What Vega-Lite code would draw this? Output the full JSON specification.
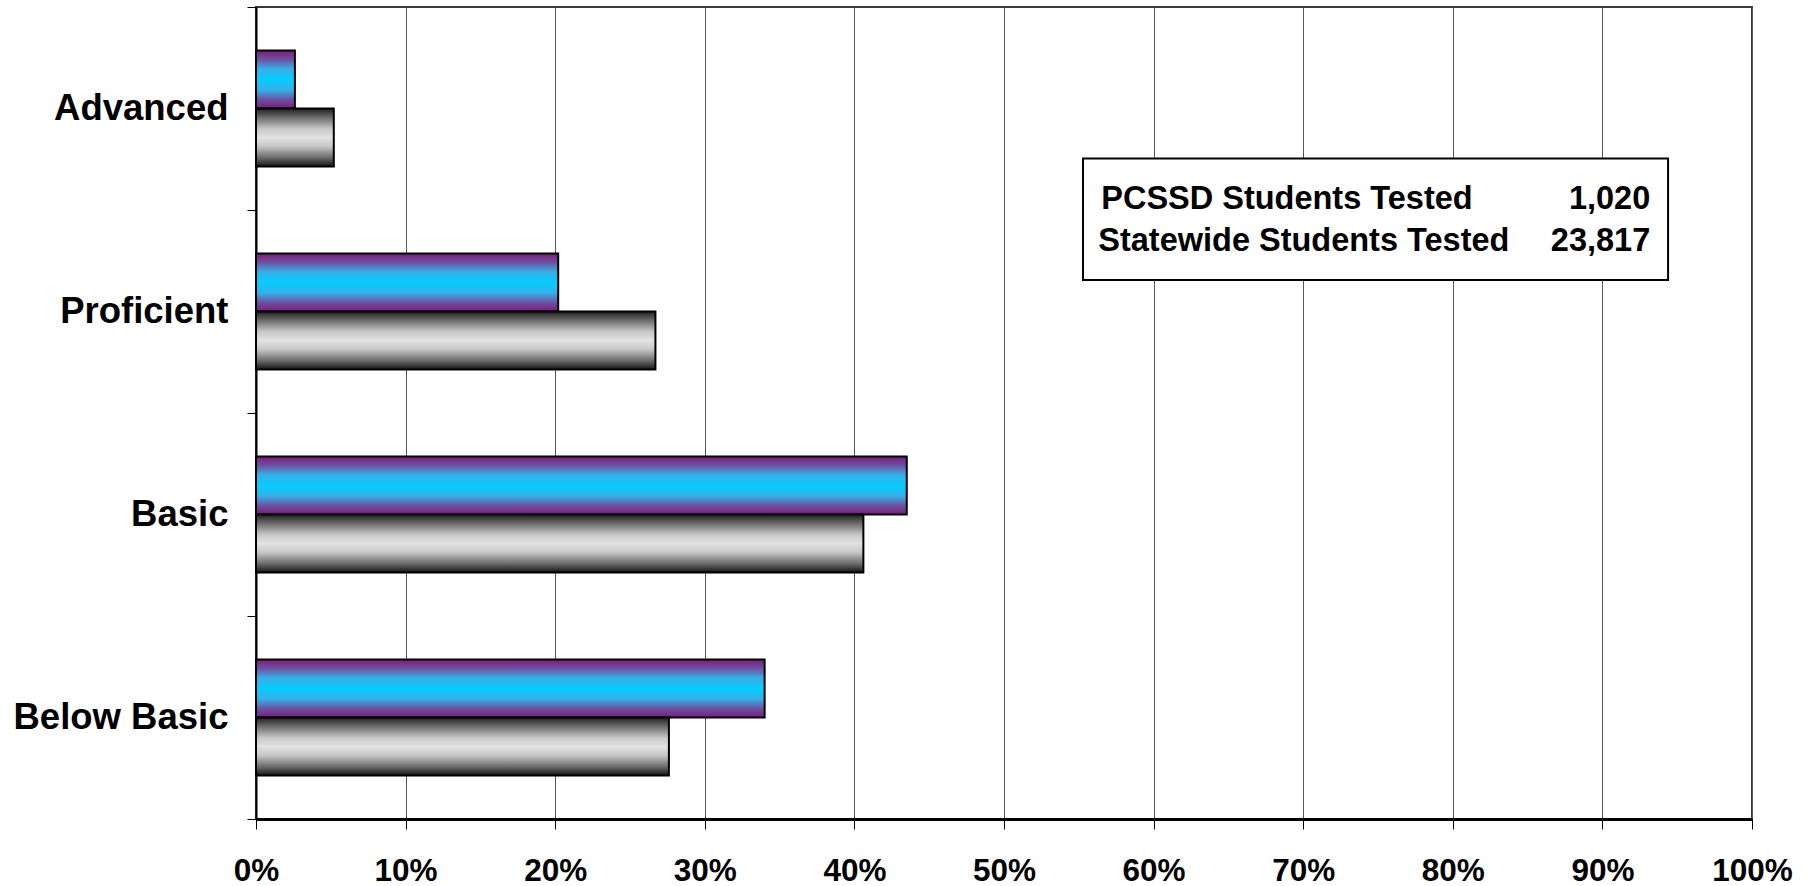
{
  "$schema": "https://vega.github.io/schema/vega-lite/v6.json",
  "width": 1496,
  "height": 812,
  "autosize": {"type": "none"},
  "padding": {"left": 256, "top": 7, "right": 62, "bottom": 67},
  "background": "white",
  "config": {
    "view": {"stroke": "#3a3a3a", "strokeWidth": 2},
    "font": "Liberation Sans"
  },
  "datasets": {
    "bars": [
      {"level": "Advanced", "group": "PCSSD", "pct": 2.6},
      {"level": "Advanced", "group": "Statewide", "pct": 5.2},
      {"level": "Proficient", "group": "PCSSD", "pct": 20.2},
      {"level": "Proficient", "group": "Statewide", "pct": 26.7},
      {"level": "Basic", "group": "PCSSD", "pct": 43.5},
      {"level": "Basic", "group": "Statewide", "pct": 40.6},
      {"level": "Below Basic", "group": "PCSSD", "pct": 34.0},
      {"level": "Below Basic", "group": "Statewide", "pct": 27.6}
    ],
    "box": [
      {"label": "PCSSD Students Tested", "count": "1,020"},
      {"label": "Statewide Students Tested", "count": "23,817"}
    ]
  },
  "layer": [
    {
      "data": {"name": "bars"},
      "encoding": {
        "y": {
          "field": "level",
          "type": "nominal",
          "scale": {"domain": ["Advanced", "Proficient", "Basic", "Below Basic"], "paddingInner": 0, "paddingOuter": 0},
          "axis": {
            "title": null,
            "tickBand": "extent",
            "labelFontSize": 36.5,
            "labelFontWeight": "bold",
            "labelColor": "black",
            "labelLimit": 500,
            "labelPadding": 19,
            "tickSize": 9,
            "tickColor": "black",
            "tickWidth": 1,
            "domainColor": "black",
            "domainWidth": 2,
            "grid": false
          }
        },
        "yOffset": {
          "field": "group",
          "type": "nominal",
          "scale": {"domain": ["PCSSD", "Statewide"], "paddingInner": 0, "paddingOuter": 0.75}
        },
        "x": {
          "field": "pct",
          "type": "quantitative",
          "scale": {"domain": [0, 100], "nice": false},
          "axis": {
            "title": null,
            "values": [0, 10, 20, 30, 40, 50, 60, 70, 80, 90, 100],
            "labelExpr": "datum.value + '%'",
            "labelFontSize": 31.5,
            "labelFontWeight": "bold",
            "labelColor": "black",
            "labelFlush": false,
            "labelOverlap": false,
            "labelPadding": 26,
            "tickSize": 10,
            "tickColor": "black",
            "domainColor": "black",
            "domainWidth": 3,
            "grid": true,
            "gridColor": "#555555",
            "gridWidth": 1
          }
        }
      },
      "layer": [
        {
          "transform": [{"filter": "datum.group === 'PCSSD'"}],
          "mark": {
            "type": "bar",
            "stroke": "black",
            "strokeWidth": 2,
            "color": {
              "gradient": "linear",
              "x1": 0, "y1": 0, "x2": 0, "y2": 1,
              "stops": [
                {"offset": 0, "color": "#7a1c7c"},
                {"offset": 0.15, "color": "#6d4f9e"},
                {"offset": 0.32, "color": "#36b0e8"},
                {"offset": 0.5, "color": "#05ccff"},
                {"offset": 0.68, "color": "#36b0e8"},
                {"offset": 0.85, "color": "#6d4f9e"},
                {"offset": 1, "color": "#7a1c7c"}
              ]
            }
          }
        },
        {
          "transform": [{"filter": "datum.group === 'Statewide'"}],
          "mark": {
            "type": "bar",
            "stroke": "black",
            "strokeWidth": 2,
            "color": {
              "gradient": "linear",
              "x1": 0, "y1": 0, "x2": 0, "y2": 1,
              "stops": [
                {"offset": 0, "color": "#1e1e1e"},
                {"offset": 0.15, "color": "#6a6a6a"},
                {"offset": 0.35, "color": "#c8c8c8"},
                {"offset": 0.5, "color": "#e2e2e2"},
                {"offset": 0.65, "color": "#c8c8c8"},
                {"offset": 0.85, "color": "#6a6a6a"},
                {"offset": 1, "color": "#141414"}
              ]
            }
          }
        }
      ]
    },
    {
      "data": {"name": "box"},
      "layer": [
        {
          "transform": [{"filter": "datum.label === 'PCSSD Students Tested'"}],
          "mark": {"type": "rect", "fill": "white", "stroke": "black", "strokeWidth": 2},
          "encoding": {
            "x": {"datum": 55.28, "type": "quantitative"},
            "x2": {"datum": 94.39},
            "y": {"datum": 0.8134, "type": "quantitative", "scale": {"domain": [0, 1], "nice": false, "zero": true}, "axis": null},
            "y2": {"datum": 0.6638}
          }
        },
        {
          "transform": [{"filter": "datum.label === 'PCSSD Students Tested'"}],
          "mark": {"type": "text", "align": "left", "baseline": "middle", "fontSize": 32.5, "fontWeight": "bold", "color": "black"},
          "encoding": {
            "x": {"datum": 56.5, "type": "quantitative"},
            "y": {"datum": 0.7635, "type": "quantitative"},
            "text": {"field": "label"}
          }
        },
        {
          "transform": [{"filter": "datum.label === 'PCSSD Students Tested'"}],
          "mark": {"type": "text", "align": "right", "baseline": "middle", "fontSize": 32.5, "fontWeight": "bold", "color": "black"},
          "encoding": {
            "x": {"datum": 93.2, "type": "quantitative"},
            "y": {"datum": 0.7635, "type": "quantitative"},
            "text": {"field": "count"}
          }
        },
        {
          "transform": [{"filter": "datum.label === 'Statewide Students Tested'"}],
          "mark": {"type": "text", "align": "left", "baseline": "middle", "fontSize": 32.5, "fontWeight": "bold", "color": "black"},
          "encoding": {
            "x": {"datum": 56.3, "type": "quantitative"},
            "y": {"datum": 0.7123, "type": "quantitative"},
            "text": {"field": "label"}
          }
        },
        {
          "transform": [{"filter": "datum.label === 'Statewide Students Tested'"}],
          "mark": {"type": "text", "align": "right", "baseline": "middle", "fontSize": 32.5, "fontWeight": "bold", "color": "black"},
          "encoding": {
            "x": {"datum": 93.2, "type": "quantitative"},
            "y": {"datum": 0.7123, "type": "quantitative"},
            "text": {"field": "count"}
          }
        }
      ]
    }
  ],
  "resolve": {"scale": {"y": "independent"}, "axis": {"y": "independent"}}
}
